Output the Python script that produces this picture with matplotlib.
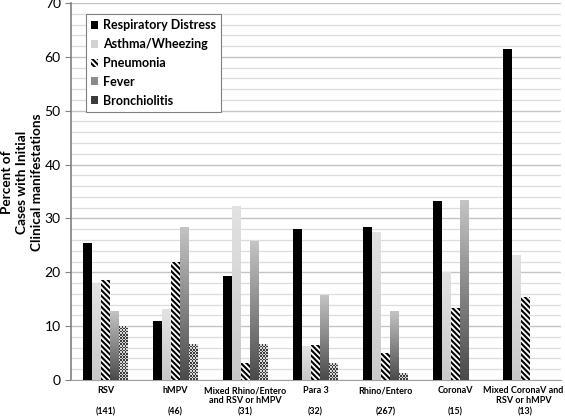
import numpy as np
import matplotlib
matplotlib.use("Agg")
import matplotlib.pyplot as plt
from matplotlib.colors import LinearSegmentedColormap, ListedColormap

plt.rcParams['font.family'] = ['Lato', 'DejaVu Sans']
plt.rcParams['hatch.linewidth'] = 1.5

categories = ["RSV", "hMPV", "Mixed Rhino/Entero\nand RSV or hMPV", "Para 3",
              "Rhino/Entero", "CoronaV", "Mixed CoronaV and\nRSV or hMPV"]
counts = ["(141)", "(46)", "(31)", "(32)", "(267)", "(15)", "(13)"]
series_names = ["Respiratory Distress", "Asthma/Wheezing", "Pneumonia", "Fever", "Bronchiolitis"]
resp_distress = [25.5, 10.9, 19.4, 28.1, 28.4, 33.3, 61.5]
asthma = [17.8, 13.0, 32.3, 6.3, 27.3, 20.0, 23.1]
pneumonia = [18.5, 21.9, 3.1, 6.5, 5.0, 13.3, 15.4]
fever = [12.8, 28.3, 25.8, 15.6, 12.7, 33.3, 0]
bronchiolitis = [10.0, 6.5, 6.5, 3.1, 1.2, 0, 0]
yticks = [0, 10, 20, 30, 40, 50, 60, 70]
ylabel_lines = ["Percent of", "Cases with Initial", "Clinical manifestations"]

fig = plt.figure(figsize=(5.65, 4.19), dpi=100)
ax = fig.add_axes([70.5/565, 1-380/419, 490/565, 377/419])

x = np.arange(len(categories))
w = 0.128
data = [resp_distress, asthma, pneumonia, fever, bronchiolitis]
styles = [
    dict(color='black'),
    dict(color='#d2d2d2'),
    dict(facecolor='white', hatch='\\' * 6, edgecolor='black', linewidth=0),
    dict(color='#8a8a8a'),
    dict(facecolor='#9a9a9a', hatch='x' * 8, edgecolor='#3a3a3a', linewidth=0),
]
all_bars = []
for i, (vals, st, name) in enumerate(zip(data, styles, series_names)):
    bars = ax.bar(x + (i - 2) * w, vals, width=w, label=name, zorder=3, **st)
    all_bars.append(bars)

# gradients for asthma and fever
cm_fever = LinearSegmentedColormap.from_list('f', ['#4a4a4a', '#c4c4c4'])
cm_asthma = LinearSegmentedColormap.from_list('a', ['#c8c8c8', '#e2e2e2'])
grad = np.linspace(0, 1, 128).reshape(-1, 1)
for bars, cm in [(all_bars[1], cm_asthma), (all_bars[3], cm_fever)]:
    for b in bars:
        h = b.get_height()
        if h <= 0:
            continue
        x0 = b.get_x()
        ax.imshow(grad, extent=[x0, x0 + b.get_width(), 0, h], origin='lower',
                  aspect='auto', cmap=cm, zorder=3.5, interpolation='bilinear')

# checkerboard texture for bronchiolitis
px_per_unit = 377 / 70.0
cm_check = ListedColormap(['#d8d8d8', '#3c3c3c'])
for b in all_bars[4]:
    h = b.get_height()
    if h <= 0:
        continue
    nrow = max(1, int(round(h * px_per_unit / 1.6)))
    ncol = 6
    chk = (np.add.outer(np.arange(nrow), np.arange(ncol)) % 2).astype(float)
    x0 = b.get_x()
    ax.imshow(chk, extent=[x0, x0 + b.get_width(), 0, h], origin='lower',
              aspect='auto', cmap=cm_check, zorder=3.5, interpolation='nearest')

ax.set_xlim(-0.5, len(categories) - 0.5)
ax.set_ylim(0, 70)
ax.set_yticks(yticks)
ax.set_yticks(np.arange(0, 71, 2), minor=True)
ax.grid(axis='y', which='minor', color='#dcdcdc', linewidth=0.9, zorder=0)
ax.grid(axis='y', which='major', color='#c4c4c4', linewidth=1.0, zorder=0)
ax.set_axisbelow(True)
ax.tick_params(axis='y', which='major', length=4, color='#808080', labelsize=10, pad=3)
ax.tick_params(axis='y', which='minor', length=0)
ax.set_xticks(x)
ax.set_xticklabels([])
ax.tick_params(axis='x', length=0)
for s in ['top', 'right']:
    ax.spines[s].set_visible(False)
ax.spines['left'].set_color('#808080')
ax.spines['bottom'].set_color('#a0a0a0')
ax.spines['left'].set_linewidth(1.2)

cat_offsets = [0, 0, 0, 0, 0, 0, -0.03]
for xi, c, n, dx in zip(x, categories, counts, cat_offsets):
    ax.text(xi + dx, -0.016, c, transform=ax.get_xaxis_transform(), ha='center', va='top',
            fontsize=6.5, fontweight='bold', linespacing=1.15)
    ax.text(xi, -0.085, n, transform=ax.get_xaxis_transform(), ha='center', va='center',
            fontsize=6.3, fontweight='bold')

for xpix, line in zip([7.5, 22.5, 37.5], ylabel_lines):
    fig.text(xpix/565, 1-182/419, line, rotation=90, ha='center', va='center',
             fontsize=9.8, fontweight='bold')

leg = ax.legend(loc='upper left', bbox_to_anchor=(9/490, 1-5/377),
                prop=dict(weight='bold', size=9), handlelength=0.6, handleheight=0.6,
                handletextpad=0.4, labelspacing=0.55, borderpad=0.4,
                fancybox=False, edgecolor='#808080', framealpha=1)
leg.get_frame().set_linewidth(0.8)

fig.savefig('out.png', dpi=100)
